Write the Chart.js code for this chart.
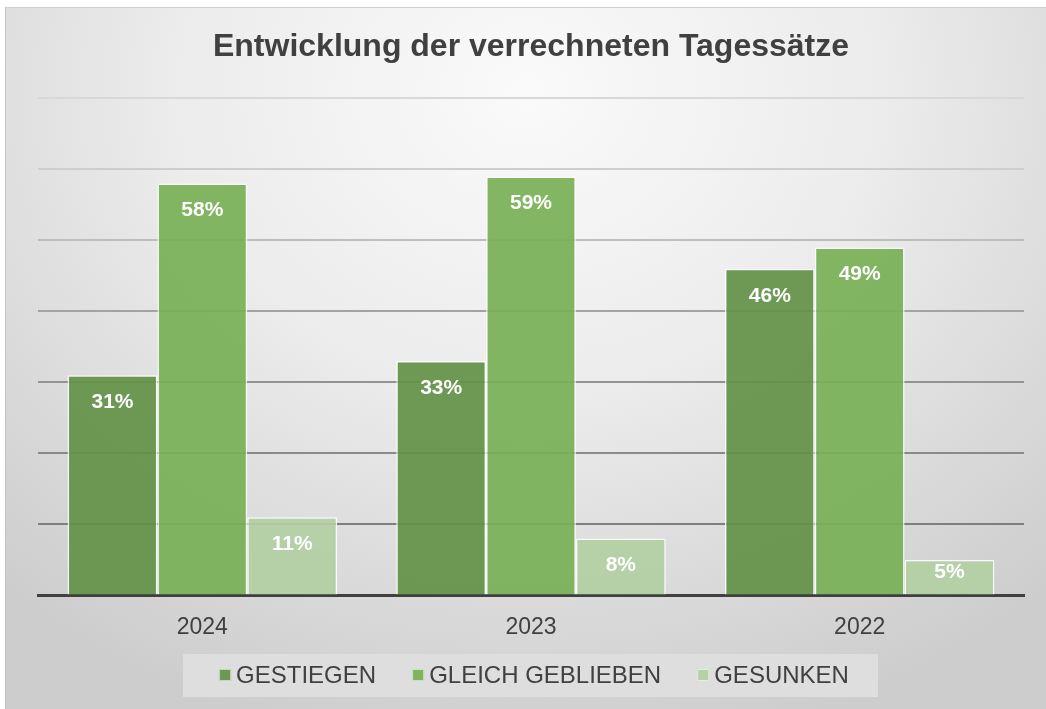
<!DOCTYPE html>
<html lang="de">
<head>
<meta charset="utf-8">
<title>Entwicklung der verrechneten Tagessätze</title>
<script src="https://cdn.jsdelivr.net/npm/chart.js@4/dist/chart.umd.min.js"></script>
<style>
    html, body { margin: 0; padding: 0; background: #ffffff; overflow: hidden; }
    #wrap {
        position: absolute;
        left: 5px;
        top: 7px;
        width: 1041px;
        height: 702px;
        border-left: 1px solid #c4c4c4;
        border-top: 1px solid #d0d0d0;
        background: radial-gradient(ellipse 75% 95% at 50% 12%, #fafafa 0%, #ececec 45%, #d8d8d8 80%, #cdcdcd 100%);
    }
    canvas { display: block; }
</style>
</head>
<body>
<div id="wrap"><canvas id="ratesChart" width="1040" height="701"></canvas></div>
<script>
const years = ["2024", "2023", "2022"];
const gestiegen = [31, 33, 46];
const gleichGeblieben = [58, 59, 49];
const gesunken = [11, 8, 5];
const seriesNames = ["GESTIEGEN", "GLEICH GEBLIEBEN", "GESUNKEN"];
const seriesColors = ["rgba(98,145,70,0.92)", "rgba(120,176,86,0.92)", "rgba(178,207,163,0.92)"];

const gridColors = {
    10: "#7f7f7f",
    20: "#8a8a8a",
    30: "#939393",
    40: "#a3a3a3",
    50: "#bdbdbd",
    60: "#cdcdcd",
    70: "#d8d8d8"
};

const FONT = "'Liberation Sans', Arial, sans-serif";

// white percentage labels inside the bars
const barLabels = {
    id: "barLabels",
    afterDatasetsDraw(chart) {
        const ctx = chart.ctx;
        ctx.save();
        ctx.fillStyle = "#ffffff";
        ctx.font = "bold 21px " + FONT;
        ctx.textAlign = "center";
        ctx.textBaseline = "middle";
        chart.data.datasets.forEach((ds, i) => {
            chart.getDatasetMeta(i).data.forEach((bar, j) => {
                const y = Math.min(bar.y + 27, bar.base - 22);
                ctx.fillText(ds.data[j] + "%", bar.x, y);
            });
        });
        ctx.restore();
    }
};

// legend drawn by hand: grey box, small squares, tight spacing
const boxLegend = {
    id: "boxLegend",
    afterDraw(chart) {
        const ctx = chart.ctx;
        const cy = chart.height - 34;
        const cx = chart.width / 2 + 4;
        ctx.save();
        ctx.fillStyle = "#dedede";
        ctx.fillRect(cx - 347, cy - 21, 695, 43);

        ctx.font = "24px " + FONT;
        ctx.textBaseline = "middle";
        const items = chart.data.datasets.map(ds => ({
            text: ds.label,
            color: ds.backgroundColor,
            w: 12 + 5 + ctx.measureText(ds.label).width
        }));
        const gap = 36;
        const total = items.reduce((s, it) => s + it.w, 0) + gap * (items.length - 1);
        let x = cx - total / 2 + 4;
        items.forEach(it => {
            ctx.fillStyle = it.color;
            ctx.fillRect(x, cy - 6, 12, 12);
            ctx.strokeStyle = "rgba(255,255,255,0.6)";
            ctx.lineWidth = 1;
            ctx.strokeRect(x + 0.5, cy - 5.5, 11, 11);
            ctx.fillStyle = "#404040";
            ctx.fillText(it.text, x + 17, cy + 1);
            x += it.w + gap;
        });
        ctx.restore();
    }
};

function renderChart() {
    const ctx = document.getElementById("ratesChart").getContext("2d");
    const values = [gestiegen, gleichGeblieben, gesunken];

    new Chart(ctx, {
        type: "bar",
        data: {
            labels: years,
            datasets: seriesNames.map((name, i) => ({
                label: name,
                data: values[i],
                backgroundColor: seriesColors[i],
                borderColor: "rgba(255,255,255,0.85)",
                borderWidth: 1.5,
                borderSkipped: "bottom",
                barPercentage: 1.0,
                categoryPercentage: 0.82
            }))
        },
        options: {
            responsive: false,
            animation: false,
            layout: { padding: { left: 32, right: 22, top: 8, bottom: 58 } },
            plugins: {
                title: {
                    display: true,
                    text: "Entwicklung der verrechneten Tagessätze",
                    color: "#404040",
                    font: { family: FONT, size: 32, weight: "bold" },
                    padding: { top: 12, bottom: 32 }
                },
                legend: { display: false },
                tooltip: { enabled: false }
            },
            scales: {
                x: {
                    grid: { display: false },
                    border: { display: true, color: "#404040", width: 3 },
                    ticks: {
                        color: "#404040",
                        font: { family: FONT, size: 23 },
                        padding: 10
                    }
                },
                y: {
                    min: 0,
                    max: 70,
                    ticks: { display: false, stepSize: 10 },
                    border: { display: false },
                    grid: {
                        drawTicks: false,
                        lineWidth: 2,
                        color: c => gridColors[c.tick.value] || "rgba(0,0,0,0)"
                    }
                }
            }
        },
        plugins: [boxLegend, barLabels]
    });
}

window.onload = renderChart;
</script>
</body>
</html>
